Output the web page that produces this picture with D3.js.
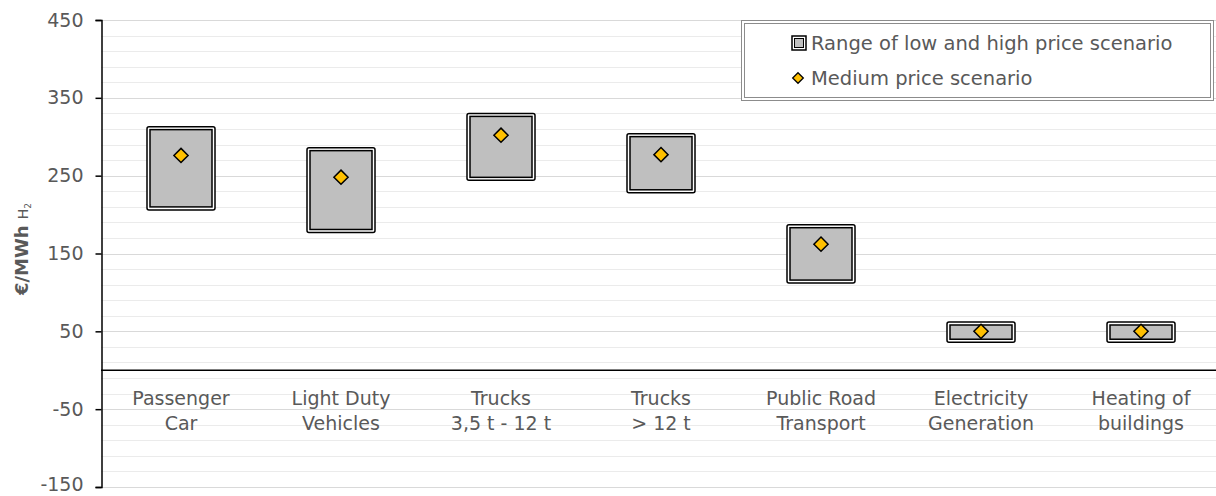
<!DOCTYPE html>
<html>
<head>
<meta charset="utf-8">
<script src="https://cdn.jsdelivr.net/npm/d3@7"></script>
<style>
  body { margin: 0; background: #fff; }
  text { font-family: "DejaVu Sans", sans-serif; fill: #595959; }
</style>
</head>
<body>
<svg id="chart" width="1216" height="496"></svg>
<script>
// categories, each label split into two lines
const categories = [
  ["Passenger", "Car"],
  ["Light Duty", "Vehicles"],
  ["Trucks", "3,5 t - 12 t"],
  ["Trucks", "> 12 t"],
  ["Public Road", "Transport"],
  ["Electricity", "Generation"],
  ["Heating of", "buildings"]
];
// low / high price scenario and the medium one (€/MWh H2)
const lowValues = [206, 177, 244, 228, 112, 36, 36];
const highValues = [313, 286, 330, 304, 187, 62, 62];
const mediumValues = [276, 248, 302, 277, 162, 50, 50];
const yTicks = [-150, -50, 50, 150, 250, 350, 450];

const svg = d3.select("#chart");

// y scale
const y = d3.scaleLinear().domain([-150, 450]).range([487, 20]);
// x band scale, plot runs a bit past the right edge
const x = d3.scaleBand().domain(d3.range(categories.length)).range([101, 1221]);
const cx = i => x(i) + x.bandwidth() / 2;

// minor grid every 20
const minor = d3.range(-150, 451, 20);
svg.append("g").selectAll("line").data(minor).enter().append("line")
  .attr("x1", 101).attr("x2", 1216)
  .attr("y1", d => Math.round(y(d)) + 0.5).attr("y2", d => Math.round(y(d)) + 0.5)
  .attr("stroke", "#ebebeb").attr("stroke-width", 1);

// major grid
svg.append("g").selectAll("line").data(yTicks).enter().append("line")
  .attr("x1", 101).attr("x2", 1216)
  .attr("y1", d => Math.round(y(d)) + 0.5).attr("y2", d => Math.round(y(d)) + 0.5)
  .attr("stroke", "#d9d9d9").attr("stroke-width", 1);

// y axis
const yAxis = svg.append("g")
  .attr("transform", "translate(101.5,0)")
  .call(d3.axisLeft(y).tickValues(yTicks).tickSize(6).tickPadding(12).tickFormat(d => String(d)));
yAxis.select(".domain").attr("stroke", "#000").attr("stroke-width", 1.5);
yAxis.selectAll(".tick line").attr("stroke", "#000").attr("stroke-width", 1.5);
yAxis.selectAll(".tick text")
  .style("font-family", "DejaVu Sans, sans-serif")
  .style("font-size", "19px").attr("fill", "#595959")
  .attr("dy", d => d === -150 ? "0.2em" : "0.32em");  // keep the bottom label inside

// zero line
svg.append("line")
  .attr("x1", 101).attr("x2", 1216)
  .attr("y1", y(0)).attr("y2", y(0))
  .attr("stroke", "#000").attr("stroke-width", 1.5);

// y title
const title = svg.append("text")
  .attr("transform", "translate(28,249) rotate(-90)")
  .attr("text-anchor", "middle")
  .style("font-size", "18px").style("font-weight", "bold");
title.append("tspan").text("€/MWh ");
title.append("tspan").style("font-size", "14px").style("font-weight", "normal").text("H");
title.append("tspan").style("font-size", "9px").style("font-weight", "normal").attr("dy", 3).text("2");

// category labels
const labels = svg.append("g").selectAll("text").data(categories).enter().append("text")
  .attr("text-anchor", "middle")
  .style("font-size", "19px");
labels.append("tspan").attr("x", (d, i) => cx(i)).attr("y", 405).text(d => d[0]);
labels.append("tspan").attr("x", (d, i) => cx(i)).attr("y", 430).text(d => d[1]);

// range boxes, double border
const boxW = 68;
const boxes = svg.append("g").selectAll("g").data(categories).enter().append("g");
boxes.append("rect")
  .attr("x", (d, i) => cx(i) - boxW / 2)
  .attr("y", (d, i) => y(highValues[i]))
  .attr("width", boxW)
  .attr("height", (d, i) => y(lowValues[i]) - y(highValues[i]))
  .attr("rx", 2)
  .attr("fill", "#fff").attr("stroke", "#000").attr("stroke-width", 1.5);
boxes.append("rect")
  .attr("x", (d, i) => cx(i) - boxW / 2 + 3)
  .attr("y", (d, i) => y(highValues[i]) + 3)
  .attr("width", boxW - 6)
  .attr("height", (d, i) => y(lowValues[i]) - y(highValues[i]) - 6)
  .attr("fill", "#bfbfbf").attr("stroke", "#000").attr("stroke-width", 1.5);

// medium diamonds
const diamond = d3.symbol().type(d3.symbolDiamond2).size(128);
svg.append("g").selectAll("path").data(mediumValues).enter().append("path")
  .attr("d", diamond)
  .attr("transform", (d, i) => "translate(" + cx(i) + "," + y(d) + ")")
  .attr("fill", "#ffc000").attr("stroke", "#000").attr("stroke-width", 1.5);

// legend
const legend = svg.append("g");
legend.append("rect").attr("x", 741.5).attr("y", 20.5).attr("width", 472).attr("height", 80)
  .attr("fill", "#fff").attr("stroke", "#8c8c8c").attr("stroke-width", 1);
legend.append("rect").attr("x", 744.5).attr("y", 23.5).attr("width", 466).attr("height", 74)
  .attr("fill", "none").attr("stroke", "#8c8c8c").attr("stroke-width", 1);
legend.append("rect").attr("x", 792).attr("y", 36).attr("width", 14).attr("height", 14)
  .attr("fill", "#fff").attr("stroke", "#000").attr("stroke-width", 1.5);
legend.append("rect").attr("x", 794.5).attr("y", 38.5).attr("width", 9).attr("height", 9)
  .attr("fill", "#bfbfbf").attr("stroke", "#000").attr("stroke-width", 1);
legend.append("text").attr("x", 811).attr("y", 50).style("font-size", "19.5px")
  .text("Range of low and high price scenario");
legend.append("path").attr("d", d3.symbol().type(d3.symbolDiamond2).size(72))
  .attr("transform", "translate(798,78)")
  .attr("fill", "#ffc000").attr("stroke", "#000").attr("stroke-width", 1.3);
legend.append("text").attr("x", 811).attr("y", 85).style("font-size", "19.5px")
  .text("Medium price scenario");
</script>
</body>
</html>
